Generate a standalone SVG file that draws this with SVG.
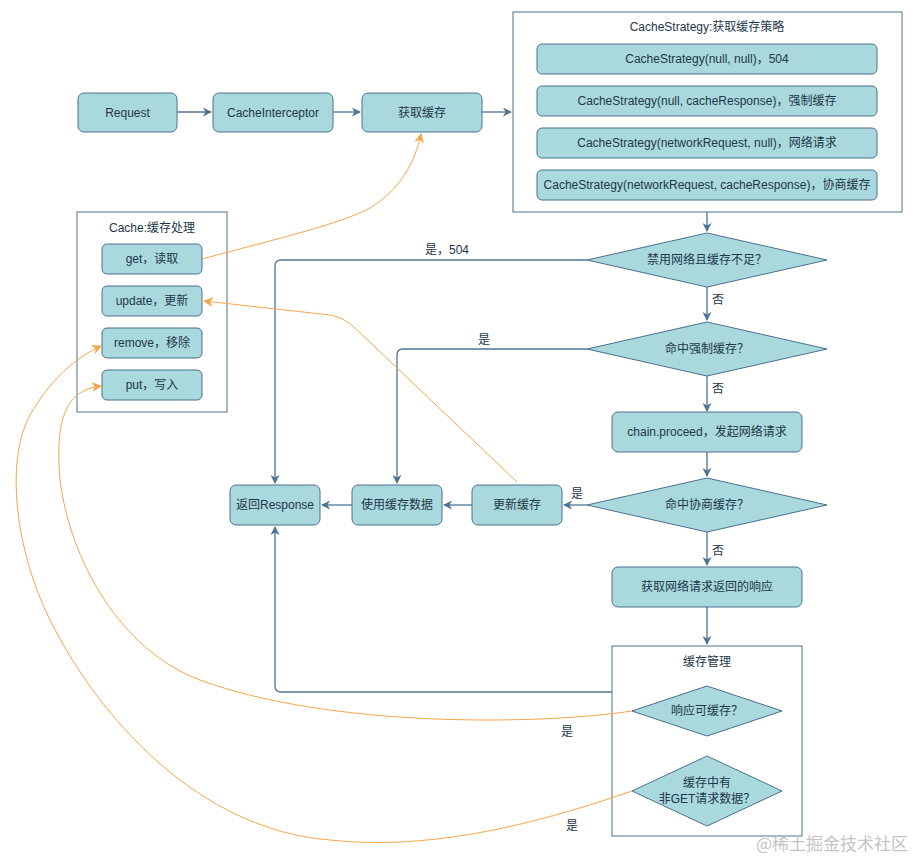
<svg xmlns="http://www.w3.org/2000/svg" width="915" height="858" viewBox="0 0 915 858">
<style>
.box{fill:#a9d9dc;stroke:#4a7090;stroke-width:1}
.ctr{fill:#ffffff;stroke:#4a7090;stroke-width:1}
.t{font-family:"Liberation Sans","Noto Sans CJK SC",sans-serif;font-size:12px;fill:#22374a;text-anchor:middle;dominant-baseline:central}
.lbl{font-family:"Liberation Sans","Noto Sans CJK SC",sans-serif;font-size:12px;fill:#22374a;text-anchor:middle;dominant-baseline:central}
.c{fill:none;stroke:#4f7492;stroke-width:1.3}
.o{fill:none;stroke:#f5a54a;stroke-width:1}
</style>
<defs>
<marker id="a" viewBox="0 0 10 10" refX="9" refY="5" markerWidth="9" markerHeight="9" markerUnits="userSpaceOnUse" orient="auto"><path d="M0,0 L10,5 L0,10 L3,5 Z" fill="#4f7492"/></marker>
<marker id="ao" viewBox="0 0 10 10" refX="9" refY="5" markerWidth="10" markerHeight="10" markerUnits="userSpaceOnUse" orient="auto"><path d="M0,0 L10,5 L0,10 L3,5 Z" fill="#f5a54a"/></marker>
</defs>
<rect width="915" height="858" fill="#ffffff"/>

<g id="request"><rect class="box" x="78" y="93" width="99" height="39" rx="6"/><text class="t" x="127.5" y="112.5">Request</text></g>
<g id="cacheInterceptor"><rect class="box" x="213" y="93" width="120" height="39" rx="6"/><text class="t" x="273" y="112.5">CacheInterceptor</text></g>
<g id="getCache"><rect class="box" x="362" y="93" width="120" height="39" rx="6"/><text class="t" x="422" y="112.5">获取缓存</text></g>

<g id="cacheStrategy">
<rect class="ctr" x="513" y="12" width="389" height="200"/>
<text class="t" x="707" y="27">CacheStrategy:获取缓存策略</text>
<rect class="box" x="537" y="44" width="340" height="30" rx="5"/><text class="t" x="707" y="59">CacheStrategy(null, null)，504</text>
<rect class="box" x="537" y="86" width="340" height="30" rx="5"/><text class="t" x="707" y="101">CacheStrategy(null, cacheResponse)，强制缓存</text>
<rect class="box" x="537" y="128" width="340" height="30" rx="5"/><text class="t" x="707" y="143">CacheStrategy(networkRequest, null)，网络请求</text>
<rect class="box" x="537" y="170" width="340" height="30" rx="5"/><text class="t" x="707" y="185">CacheStrategy(networkRequest, cacheResponse)，协商缓存</text>
</g>

<g id="cache">
<rect class="ctr" x="77" y="212" width="150" height="200"/>
<text class="t" x="152" y="228">Cache:缓存处理</text>
<rect class="box" x="102" y="244" width="100" height="30" rx="5"/><text class="t" x="152" y="259">get，读取</text>
<rect class="box" x="102" y="286" width="100" height="30" rx="5"/><text class="t" x="152" y="301">update，更新</text>
<rect class="box" x="102" y="328" width="100" height="30" rx="5"/><text class="t" x="152" y="343">remove，移除</text>
<rect class="box" x="102" y="370" width="100" height="30" rx="5"/><text class="t" x="152" y="385">put，写入</text>
</g>

<g id="d1"><polygon class="box" points="707,233 827,260 707,287 587,260"/><text class="t" x="707" y="260">禁用网络且缓存不足？</text></g>
<g id="d2"><polygon class="box" points="707,322 827,349 707,376 587,349"/><text class="t" x="707" y="349">命中强制缓存？</text></g>
<g id="proceed"><rect class="box" x="612" y="412" width="190" height="40" rx="6"/><text class="t" x="707" y="432">chain.proceed，发起网络请求</text></g>
<g id="d3"><polygon class="box" points="707,478 827,505 707,532 587,505"/><text class="t" x="707" y="505">命中协商缓存？</text></g>
<g id="netResp"><rect class="box" x="612" y="567" width="190" height="40" rx="6"/><text class="t" x="707" y="587">获取网络请求返回的响应</text></g>

<g id="returnResp"><rect class="box" x="230" y="485" width="90" height="40" rx="6"/><text class="t" x="275" y="505">返回Response</text></g>
<g id="useCache"><rect class="box" x="352" y="485" width="90" height="40" rx="6"/><text class="t" x="397" y="505">使用缓存数据</text></g>
<g id="updateCache"><rect class="box" x="472" y="485" width="90" height="40" rx="6"/><text class="t" x="517" y="505">更新缓存</text></g>

<g id="cacheMgmt">
<rect class="ctr" x="612" y="646" width="190" height="190"/>
<text class="t" x="707" y="662">缓存管理</text>
<polygon class="box" points="707,686 782,711 707,736 632,711"/><text class="t" x="707" y="711">响应可缓存？</text>
<polygon class="box" points="707,756 782,791 707,826 632,791"/>
<text class="t" x="707" y="783">缓存中有</text>
<text class="t" x="707" y="799">非GET请求数据？</text>
</g>

<g id="connectors">
<path class="c" d="M177,112 L211,112" marker-end="url(#a)"/>
<path class="c" d="M333,112 L360,112" marker-end="url(#a)"/>
<path class="c" d="M482,112 L511,112" marker-end="url(#a)"/>
<path class="c" d="M707,212 L707,231" marker-end="url(#a)"/>
<path class="c" d="M587,260 L281,260 Q275,260 275,266 L275,483" marker-end="url(#a)"/>
<path class="c" d="M707,287 L707,320" marker-end="url(#a)"/>
<path class="c" d="M587,349 L403,349 Q397,349 397,355 L397,483" marker-end="url(#a)"/>
<path class="c" d="M707,376 L707,411" marker-end="url(#a)"/>
<path class="c" d="M707,452 L707,476" marker-end="url(#a)"/>
<path class="c" d="M587,505 L564,505" marker-end="url(#a)"/>
<path class="c" d="M472,505 L444,505" marker-end="url(#a)"/>
<path class="c" d="M352,505 L322,505" marker-end="url(#a)"/>
<path class="c" d="M707,532 L707,565" marker-end="url(#a)"/>
<path class="c" d="M707,607 L707,644" marker-end="url(#a)"/>
<path class="c" d="M612,692 L281,692 Q275,692 275,686 L275,527" marker-end="url(#a)"/>
<path class="o" d="M202,259 C280,238 340,224 370,208 C400,190 415,162 421,134" marker-end="url(#ao)"/>
<path class="o" d="M517,482 L355,328 Q345,318 330,315 L204,301" marker-end="url(#ao)"/>
<path class="o" d="M632,711 C540,725 330,728 200,680 C120,650 70,560 60,480 C55,420 65,390 101,386" marker-end="url(#ao)"/>
<path class="o" d="M632,791 C520,830 420,850 330,840 C200,830 100,720 50,620 C15,550 5,460 30,415 C50,380 75,358 101,346" marker-end="url(#ao)"/>
<text class="lbl" x="447" y="250">是，504</text>
<text class="lbl" x="484" y="340">是</text>
<text class="lbl" x="718" y="300">否</text>
<text class="lbl" x="718" y="389">否</text>
<text class="lbl" x="577" y="494">是</text>
<text class="lbl" x="718" y="551">否</text>
<text class="lbl" x="567" y="732">是</text>
<text class="lbl" x="572" y="826">是</text>
</g>

<text x="908" y="842" font-family="'Noto Sans CJK SC','Liberation Sans',sans-serif" font-size="17" fill="#c4c4c4" text-anchor="end" dominant-baseline="central">@稀土掘金技术社区</text>
</svg>
